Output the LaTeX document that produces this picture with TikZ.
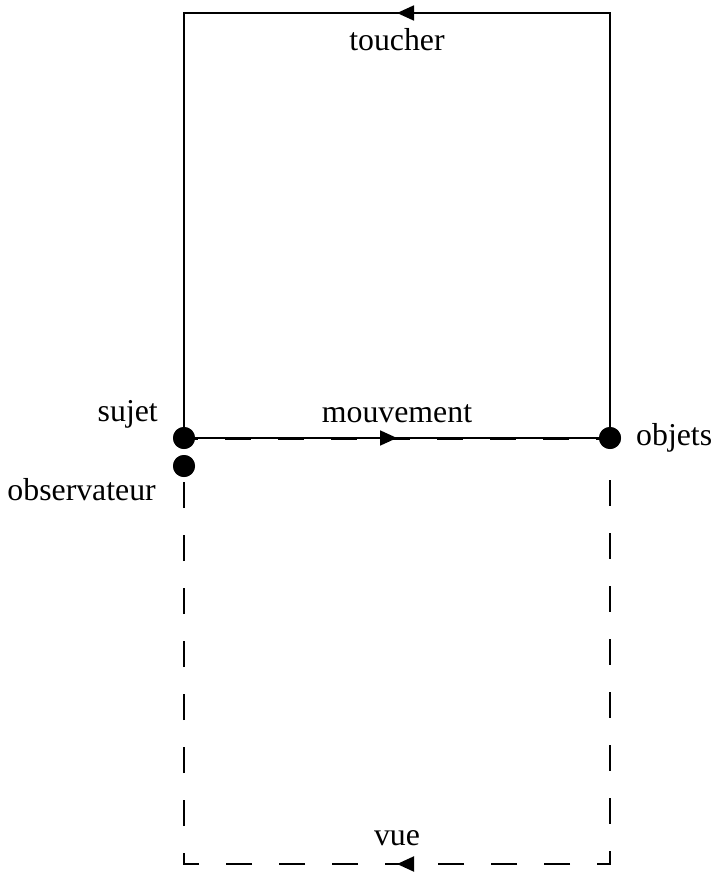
\documentclass[tikz,border=0pt]{standalone}
\usepackage{fontspec}
\setmainfont{Liberation Serif}
\usetikzlibrary{arrows.meta,decorations.markings}

\tikzset{
  dot/.style={circle,fill=black,inner sep=0pt,minimum size=22pt},
  lbl/.style={inner sep=0pt,font=\fontsize{31.8pt}{36pt}\selectfont},
  midarrow/.style={postaction={decorate,decoration={markings,
      mark=at position #1 with {\arrow{Triangle[length=17pt,width=15pt]}}}}},
  solidlink/.style={line width=1.8pt},
  dashlink/.style={line width=2pt,dash pattern=on 26pt off 27pt},
}

\begin{document}
\begin{tikzpicture}[x=1pt,y=-1pt]
  \useasboundingbox (0,0) rectangle (718,875);

  % corners of the two loops
  \coordinate (tr) at (610,13);
  \coordinate (tl) at (184,13);
  \coordinate (obot) at (610,480);
  \coordinate (sbot) at (184,480);
  \coordinate (br) at (610,864);
  \coordinate (bl) at (184,864);

  % points
  \node[dot] (sujet) at (184,438) {};
  \node[dot] (obs) at (184,466) {};
  \node[dot] (objets) at (610,438) {};

  % touch loop (solid)
  \draw[solidlink,midarrow=0.5] (objets.center) -- (tr) -- (tl) -- (sujet.center);

  % movement: solid line with a dashed overlay
  \draw[line width=1.8pt,midarrow=0.5] (sujet.center) -- (objets.center);
  \draw[line width=3pt,dash pattern=on 26pt off 27pt,dash phase=12pt] (sujet.center) -- (objets.center);

  % sight loop (dashed)
  \draw[dashlink,midarrow=0.5] (obot) -- (br) -- (bl) -- (sbot);

  % labels
  \node[lbl,anchor=base] (ltoucher) at (397,51) {toucher};
  \node[lbl,anchor=base] (lmouv) at (397,422) {mouvement};
  \node[lbl,anchor=base east] (lsujet) at (158,421) {sujet};
  \node[lbl,anchor=base east] (lobs) at (156,500) {observateur};
  \node[lbl,anchor=base west] (lobjets) at (636,445) {objets};
  \node[lbl,anchor=base] (lvue) at (397,845) {vue};

  % redraw dots on top of the lines
  \fill (sujet) circle (11pt);
  \fill (obs) circle (11pt);
  \fill (objets) circle (11pt);
\end{tikzpicture}
\end{document}
